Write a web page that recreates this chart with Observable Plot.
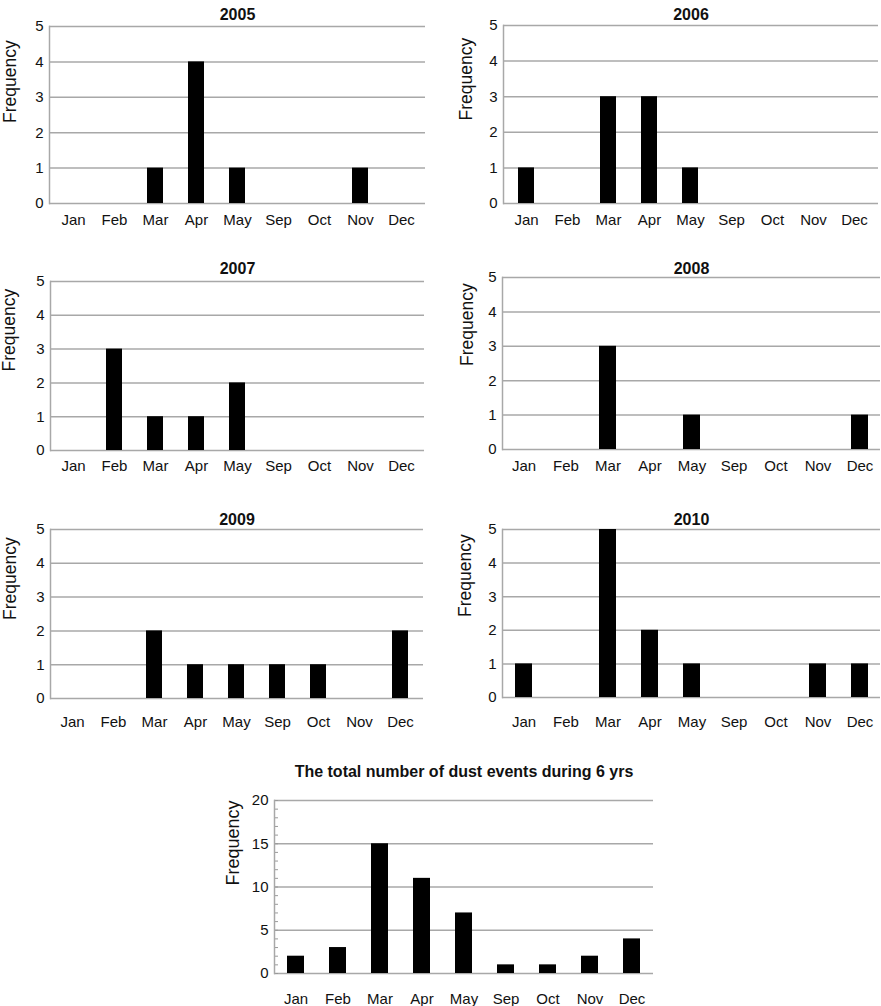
<!DOCTYPE html>
<html><head><meta charset="utf-8">
<script src="https://cdn.jsdelivr.net/npm/d3@7"></script>
<script src="https://cdn.jsdelivr.net/npm/@observablehq/plot@0.6"></script>
<style>
body{margin:0;background:#fff;}
#wrap{position:relative;width:881px;height:1006px;font-family:"Liberation Sans",Arial,sans-serif;}
#wrap svg{position:absolute;}
</style>
</head><body><div id="wrap"></div>
<script>
const months = ["Jan","Feb","Mar","Apr","May","Sep","Oct","Nov","Dec"];
const y2005 = [0,0,1,4,1,0,0,1,0];
const y2006 = [1,0,3,3,1,0,0,0,0];
const y2007 = [0,3,1,1,2,0,0,0,0];
const y2008 = [0,0,3,0,1,0,0,0,1];
const y2009 = [0,0,2,1,1,1,1,0,2];
const y2010 = [1,0,5,2,1,0,0,1,1];
const total = [2,3,15,11,7,1,1,2,4];
const smallTicks = [0,1,2,3,4,5];
const totalTicks = [0,5,10,15,20];
const totalMinor = d3.range(0,21);
const titles = ["2005","2006","2007","2008","2009","2010","The total number of dust events during 6 yrs"];

const FONT = "Liberation Sans, Arial, Helvetica, sans-serif";
const GRID = "#a8a8a8";

function panel(o) {
  const data = months.map((m,i)=>({month:m, value:o.values[i]}));
  const marks = [
    Plot.gridY(o.ticks, {stroke: GRID, strokeOpacity: 1, strokeWidth: 1.5}),
  ];
  if (o.minor) {
    marks.push(Plot.axisY(o.minor, {tickSize: 4, dx: 4, tickFormat: () => "", stroke: "#999", strokeWidth: 1, strokeOpacity: 1}));
  }
  marks.push(
    Plot.frame({anchor: "left", stroke: GRID, strokeWidth: 1.5}),
    Plot.barY(data, {x: "month", y: "value", fill: "#000"}),
    Plot.axisY(o.ticks, {tickSize: 0, tickPadding: 6, fontSize: o.tickFont, fill: "#111"}),
    Plot.axisX({tickSize: 0, tickPadding: o.xPad, fontSize: 15, fill: "#111", label: null}),
    Plot.text([o.title], {frameAnchor: "top", dy: o.titleDy, fontWeight: "bold", fontSize: 16, fill: "#111"}),
    Plot.text(["Frequency"], {frameAnchor: "left", rotate: -90, dx: o.labDx, dy: o.labDy, fontSize: o.labFont, fill: "#111"})
  );
  const chart = Plot.plot({
    width: o.w, height: o.h,
    marginLeft: o.x0 - o.ox, marginTop: o.y0 - o.oy,
    marginRight: o.ox + o.w - o.x1, marginBottom: o.oy + o.h - o.y1,
    style: {fontFamily: FONT, background: "transparent", overflow: "visible", color: "#111"},
    x: {domain: months, paddingInner: 0.6, paddingOuter: 0.3, label: null},
    y: {domain: [0, o.ymax], label: null},
    marks
  });
  chart.style.left = o.ox + "px";
  chart.style.top = o.oy + "px";
  document.getElementById("wrap").appendChild(chart);
}

const L = {ox:0, w:440}, R = {ox:440, w:441};
panel({...L, oy:0, h:240, x0:49, y0:26, x1:425, y1:203, values:y2005, title:titles[0], ymax:5, ticks:smallTicks, tickFont:15, xPad:10.5, titleDy:-17.5, labDx:-39, labDy:8, labFont:17.5});
panel({...R, oy:0, h:240, x0:503, y0:25, x1:878, y1:203, values:y2006, title:titles[1], ymax:5, ticks:smallTicks, tickFont:15, xPad:11, titleDy:-16.5, labDx:-37, labDy:6, labFont:17.5});
panel({...L, oy:240, h:250, x0:50, y0:281, x1:424, y1:450, values:y2007, title:titles[2], ymax:5, ticks:smallTicks, tickFont:15, xPad:10, titleDy:-19, labDx:-41, labDy:5.5, labFont:17.5});
panel({...R, oy:240, h:250, x0:502, y0:277, x1:880, y1:449, values:y2008, title:titles[3], ymax:5, ticks:smallTicks, tickFont:15, xPad:11, titleDy:-15, labDx:-35.5, labDy:2.5, labFont:17.5});
panel({...L, oy:490, h:250, x0:50, y0:529, x1:423, y1:698, values:y2009, title:titles[4], ymax:5, ticks:smallTicks, tickFont:15, xPad:18, titleDy:-16, labDx:-40.5, labDy:6, labFont:17.5});
panel({...R, oy:490, h:250, x0:502, y0:529, x1:880, y1:697, values:y2010, title:titles[5], ymax:5, ticks:smallTicks, tickFont:15, xPad:19, titleDy:-16, labDx:-37, labDy:3.5, labFont:17.5});
panel({ox:180, w:520, oy:740, h:266, x0:274, y0:800, x1:653, y1:973, values:total, title:titles[6], ymax:20, ticks:totalTicks, minor:totalMinor, tickFont:15, xPad:20, titleDy:-35, labDx:-41, labDy:-1.5, labFont:18});
</script>
</body></html>
